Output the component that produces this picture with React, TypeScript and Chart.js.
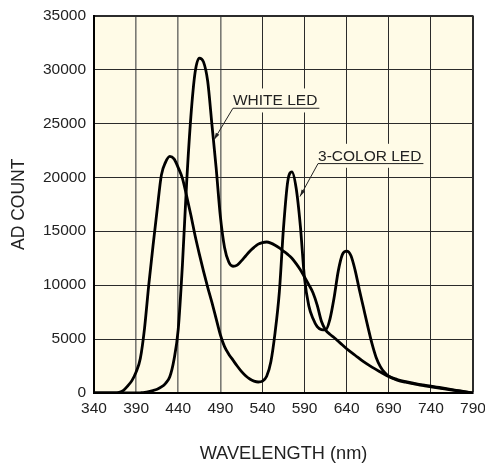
import React, { useEffect, useRef } from 'react';
import { Chart, registerables } from 'chart.js';

Chart.register(...registerables);

// ---- data ----
const whiteWavelengths = [340, 390, 395, 400, 405, 410, 415, 420, 425, 430, 435, 440, 445, 450, 455, 460, 465, 470, 475, 480, 485, 490, 495, 500, 505, 510, 515, 520, 525, 530, 535, 540, 545, 550, 555, 560, 565, 570, 575, 580, 585, 590, 595, 600, 605, 610, 615, 620, 625, 630, 635, 640, 650, 660, 670, 680, 690, 700, 710, 720, 730, 740, 750, 760, 770, 780, 790];
const whiteCounts = [0, 0, 20, 50, 120, 220, 350, 560, 900, 1500, 3100, 5900, 11900, 19500, 25600, 29700, 31050, 30700, 28900, 24900, 20900, 16400, 13500, 12150, 11750, 11850, 12250, 12700, 13150, 13500, 13800, 13950, 14000, 13900, 13700, 13450, 13150, 12850, 12500, 12000, 11430, 10750, 10050, 9300, 8150, 6650, 5850, 5450, 5150, 4800, 4450, 4100, 3500, 2900, 2400, 1950, 1520, 1200, 1000, 850, 700, 580, 460, 340, 220, 110, 0];

const rgbWavelengths = [340, 365, 370, 375, 380, 385, 390, 395, 400, 405, 410, 415, 420, 425, 430, 435, 440, 445, 450, 455, 460, 465, 470, 475, 480, 485, 490, 495, 500, 505, 510, 515, 520, 525, 530, 535, 540, 545, 550, 555, 560, 565, 570, 575, 580, 585, 590, 595, 600, 605, 610, 615, 620, 625, 630, 635, 640, 645, 650, 655, 660, 665, 670, 675, 680, 685, 690, 700, 710, 720, 730, 740, 750, 760, 770, 780, 790];
const rgbCounts = [0, 0, 60, 250, 650, 1150, 1950, 3200, 6000, 10000, 13600, 17000, 20200, 21400, 21930, 21700, 20900, 19900, 18250, 16500, 14600, 12900, 11300, 9800, 8400, 6900, 5400, 4300, 3600, 3050, 2500, 2000, 1600, 1300, 1100, 1020, 1100, 1550, 2900, 5600, 9300, 15300, 19600, 20500, 19000, 15500, 10600, 8100, 6900, 6150, 5880, 5850, 6800, 8800, 11300, 12850, 13150, 12750, 11400, 9600, 7900, 6200, 4600, 3300, 2450, 1900, 1550, 1250, 1050, 900, 760, 640, 510, 380, 250, 130, 0];

const seriesNames = ['WHITE LED', '3-COLOR LED'];
const xMin = 340;
const xMax = 790;
const xStep = 50;
const yMin = 0;
const yMax = 35000;
const yStep = 5000;
const xTitle = 'WAVELENGTH (nm)';
const yTitle = 'AD COUNT';

// callout labels: text anchor and arrow tip, in data units
const calloutTextX = [505, 606];
const calloutBaseY = [26660, 21530];
const calloutTipX = [482.5, 584.6];
const calloutTipY = [23480, 18220];

const FONT = '"Liberation Sans", Arial, Helvetica, sans-serif';
const BG = '#FFFBE7';
const INK = '#222222';

const toPoints = (xs: number[], ys: number[]) => xs.map((x, i) => ({ x, y: ys[i] }));

const plotBackground = {
  id: 'plotBackground',
  beforeDraw(chart: any) {
    const { ctx, chartArea } = chart;
    ctx.save();
    ctx.fillStyle = BG;
    ctx.fillRect(chartArea.left, chartArea.top, chartArea.right - chartArea.left, chartArea.bottom - chartArea.top);
    ctx.restore();
  },
};

const callouts = {
  id: 'callouts',
  afterDatasetsDraw(chart: any) {
    const { ctx } = chart;
    const xs = chart.scales.x;
    const ys = chart.scales.y;
    ctx.save();
    ctx.font = `15.5px ${FONT}`;
    seriesNames.forEach((name, i) => {
      const tx = xs.getPixelForValue(calloutTextX[i]);
      const by = ys.getPixelForValue(calloutBaseY[i]);
      const w = ctx.measureText(name).width;
      const uy = by + 2.8;
      ctx.fillStyle = BG;
      ctx.fillRect(tx - 5, by - 17, w + 12, 24);
      ctx.fillStyle = INK;
      ctx.textBaseline = 'alphabetic';
      ctx.textAlign = 'left';
      ctx.fillText(name, tx, by);
      const px = xs.getPixelForValue(calloutTipX[i]);
      const py = ys.getPixelForValue(calloutTipY[i]);
      ctx.strokeStyle = INK;
      ctx.lineWidth = 1;
      ctx.beginPath();
      ctx.moveTo(tx + w + 2, uy);
      ctx.lineTo(tx, uy);
      ctx.lineTo(px, py);
      ctx.stroke();
      const ang = Math.atan2(py - uy, px - tx);
      const len = 7;
      const half = 2;
      ctx.fillStyle = INK;
      ctx.beginPath();
      ctx.moveTo(px, py);
      ctx.lineTo(px - len * Math.cos(ang) + half * Math.sin(ang), py - len * Math.sin(ang) - half * Math.cos(ang));
      ctx.lineTo(px - len * Math.cos(ang) - half * Math.sin(ang), py - len * Math.sin(ang) + half * Math.cos(ang));
      ctx.closePath();
      ctx.fill();
    });
    ctx.restore();
  },
};

export default function App() {
  const ref = useRef<HTMLCanvasElement>(null);

  useEffect(() => {
    const canvas = ref.current;
    if (!canvas) return;
    const lineStyle = {
      borderColor: '#000',
      borderWidth: 2.8,
      pointRadius: 0,
      cubicInterpolationMode: 'monotone' as const,
      fill: false,
    };
    const chart = new Chart(canvas, {
      type: 'line',
      data: {
        datasets: [
          { label: seriesNames[0], data: toPoints(whiteWavelengths, whiteCounts), ...lineStyle },
          { label: seriesNames[1], data: toPoints(rgbWavelengths, rgbCounts), ...lineStyle },
        ],
      },
      options: {
        responsive: false,
        animation: false,
        devicePixelRatio: 1,
        layout: { padding: { top: 15.5, right: 12, left: 0, bottom: 0 } },
        plugins: {
          legend: { display: false },
          tooltip: { enabled: false },
        },
        scales: {
          x: {
            type: 'linear',
            min: xMin,
            max: xMax,
            afterFit: (s: any) => {
              s.height = 72;
              s.paddingLeft = 0;
              s.paddingRight = 0;
            },
            ticks: {
              stepSize: xStep,
              padding: 6,
              color: INK,
              font: { family: FONT, size: 15.5 },
              callback: (v: any) => String(v),
            },
            grid: {
              color: (c: any) => (c.tick && c.tick.value <= 490 ? '#7a7a74' : '#2b2b2b'),
              lineWidth: (c: any) => {
                if (!c.tick) return 1;
                if (c.tick.value === xMax) return 2;
                return c.tick.value <= 490 ? 1.6 : 1;
              },
              drawTicks: false,
            },
            border: { display: true, color: '#000', width: 2 },
            title: {
              display: true,
              text: xTitle,
              color: INK,
              font: { family: FONT, size: 18.2 },
              padding: { top: 0, bottom: 0.5 },
            },
          },
          y: {
            type: 'linear',
            min: yMin,
            max: yMax,
            afterFit: (s: any) => {
              s.width = 94;
              s.paddingTop = 0;
              s.paddingBottom = 0;
            },
            ticks: {
              stepSize: yStep,
              padding: 8,
              color: INK,
              font: { family: FONT, size: 15.5 },
              callback: (v: any) => String(v),
            },
            grid: {
              color: '#2b2b2b',
              lineWidth: (c: any) => (c.tick && c.tick.value === yMax ? 2 : 1),
              drawTicks: false,
            },
            border: { display: true, color: '#000', width: 2 },
            title: {
              display: true,
              text: yTitle,
              color: INK,
              font: { family: FONT, size: 17.5 },
              padding: { top: 8.5, bottom: 0 },
            },
          },
        },
      },
      plugins: [plotBackground, callouts],
    });
    return () => chart.destroy();
  }, []);

  return (
    <div style={{ position: 'fixed', left: 0, top: 0, width: 485, height: 465, background: '#fff' }}>
      <canvas ref={ref} width={485} height={465} style={{ display: 'block', width: 485, height: 465 }} />
    </div>
  );
}
